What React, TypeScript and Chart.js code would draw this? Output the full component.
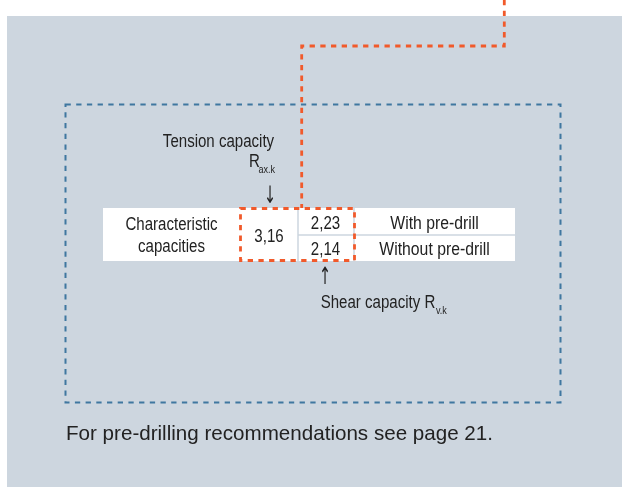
import React, { useEffect, useRef } from "react";
import { Chart, registerables } from "chart.js";

Chart.register(...registerables);

// ---- data ----
const tableTitle = ["Characteristic", "capacities"];
const tensionValues = [3.16];
const shearValues = [2.23, 2.14];
const rowLabels = ["With pre-drill", "Without pre-drill"];
const tensionLabel = ["Tension capacity", "R", "ax.k"];
const shearLabel = ["Shear capacity R", "v.k"];
const footnote = "For pre-drilling recommendations see page 21.";

const fmt = (v: number) => v.toFixed(2).replace(".", ",");

const FONT = '"Liberation Sans", Arial, Helvetica, sans-serif';
const TEXT = "#222222";
const BG = "#cdd6df";
const BLUE = "#3f77a0";
const ORANGE = "#f15a2b";

function txt(
  ctx: CanvasRenderingContext2D,
  s: string,
  x: number,
  y: number,
  size: number,
  align: CanvasTextAlign = "center",
  sx = 0.86,
  family = FONT
) {
  ctx.save();
  ctx.font = `${size}px ${family}`;
  ctx.fillStyle = TEXT;
  ctx.textBaseline = "alphabetic";
  ctx.textAlign = align;
  ctx.translate(x, y);
  ctx.scale(sx, 1);
  ctx.fillText(s, 0, 0);
  ctx.restore();
}

const diagramPlugin = {
  id: "diagram",
  beforeDraw(chart: any) {
    const ctx: CanvasRenderingContext2D = chart.ctx;
    const xs = chart.scales.x;
    const ys = chart.scales.y;
    const X = (v: number) => xs.getPixelForValue(v);
    const Y = (v: number) => ys.getPixelForValue(v);

    ctx.save();
    // page background
    ctx.fillStyle = "#ffffff";
    ctx.fillRect(X(0), Y(0), X(622) - X(0), Y(487) - Y(0));
    ctx.fillStyle = BG;
    ctx.fillRect(X(7), Y(16), X(622) - X(7), Y(487) - Y(16));

    // blue dashed box
    ctx.strokeStyle = BLUE;
    ctx.lineWidth = 2;
    ctx.setLineDash([5.3, 5.4]);
    ctx.strokeRect(X(65.5), Y(104.5), X(560.5) - X(65.5), Y(402.5) - Y(104.5));

    // table
    const tL = 103, tR = 515, tT = 208, tB = 261, tM = 235;
    const c1 = 240, c2 = 298, c3 = 354;
    ctx.setLineDash([]);
    ctx.fillStyle = "#ffffff";
    ctx.fillRect(X(tL), Y(tT), X(tR) - X(tL), Y(tB) - Y(tT));
    ctx.strokeStyle = BG;
    ctx.lineWidth = 1.5;
    ctx.beginPath();
    ctx.moveTo(X(c2), Y(tT));
    ctx.lineTo(X(c2), Y(tB));
    ctx.moveTo(X(c3), Y(tT));
    ctx.lineTo(X(c3), Y(tB));
    ctx.moveTo(X(c2), Y(tM));
    ctx.lineTo(X(tR), Y(tM));
    ctx.stroke();

    // orange connector + box
    ctx.strokeStyle = ORANGE;
    ctx.lineWidth = 2.8;
    ctx.setLineDash([5.3, 5.4]);
    ctx.beginPath();
    ctx.moveTo(X(504.3), Y(0));
    ctx.lineTo(X(504.3), Y(46));
    ctx.lineTo(X(301.7), Y(46));
    ctx.lineTo(X(301.7), Y(tT));
    ctx.stroke();
    ctx.strokeRect(X(c1 + 0.5), Y(tT + 0.5), X(c3 + 0.5) - X(c1 + 0.5), Y(tB - 0.5) - Y(tT + 0.5));
    ctx.setLineDash([]);
    ctx.restore();

    // labels above
    txt(ctx, tensionLabel[0], X(218.5), Y(146.5), 17.5);
    txt(ctx, tensionLabel[1], X(249), Y(166.5), 17.5, "left");
    txt(ctx, tensionLabel[2], X(258.5), Y(172.5), 10.5, "left");
    txt(ctx, "\u2193", X(270), Y(203), 24, "center", 0.6, '"DejaVu Sans", sans-serif');

    // table text
    txt(ctx, tableTitle[0], X((tL + c1) / 2), Y(229.5), 17.5);
    txt(ctx, tableTitle[1], X((tL + c1) / 2), Y(251.5), 17.5);
    txt(ctx, fmt(tensionValues[0]), X((c1 + c2) / 2), Y(241.5), 17.5);
    shearValues.forEach((v, i) => {
      txt(ctx, fmt(v), X((c2 + c3) / 2 - 0.5), Y(i === 0 ? 228.5 : 255), 17.5);
    });
    rowLabels.forEach((s, i) => {
      txt(ctx, s, X((c3 + tR) / 2), Y(i === 0 ? 228.5 : 255), 17.5, "center", 0.9);
    });

    // labels below
    txt(ctx, "\u2191", X(325), Y(284), 24, "center", 0.6, '"DejaVu Sans", sans-serif');
    txt(ctx, shearLabel[0], X(320.7), Y(308), 17.5, "left");
    txt(ctx, shearLabel[1], X(436), Y(313.5), 10.5, "left");

    // footnote
    txt(ctx, footnote, X(66), Y(440), 20.6, "left", 1);
  },
};

export default function App() {
  const ref = useRef<HTMLCanvasElement | null>(null);
  useEffect(() => {
    document.body.style.margin = "0";
    const canvas = ref.current;
    if (!canvas) return;
    const chart = new Chart(canvas, {
      type: "scatter",
      data: { datasets: [{ data: [], pointRadius: 0 }] },
      options: {
        animation: false,
        responsive: false,
        maintainAspectRatio: false,
        layout: { padding: 0 },
        plugins: { legend: { display: false }, tooltip: { enabled: false } },
        scales: {
          x: { type: "linear", min: 0, max: 622, display: false },
          y: { type: "linear", min: 0, max: 487, reverse: true, display: false },
        },
      },
      plugins: [diagramPlugin],
    });
    return () => chart.destroy();
  }, []);
  return (
    <div style={{ width: 622, height: 487 }}>
      <canvas ref={ref} width={622} height={487} style={{ display: "block" }} />
    </div>
  );
}
